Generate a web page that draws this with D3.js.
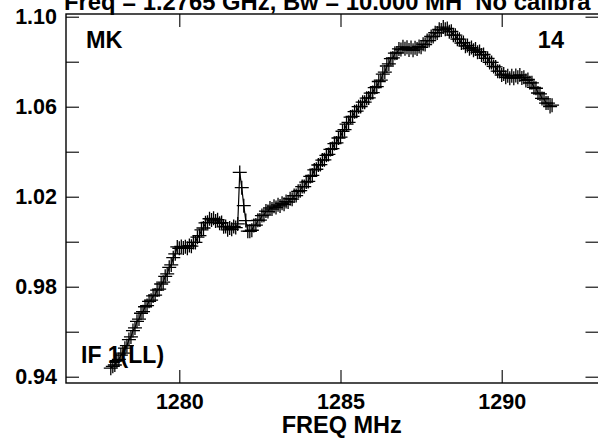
<!DOCTYPE html>
<html>
<head>
<meta charset="utf-8">
<script src="https://cdn.jsdelivr.net/npm/d3@7"></script>
<style>
  html, body { margin: 0; padding: 0; background: #fff; overflow: hidden; }
  svg { display: block; }
  text { font-family: "Liberation Sans", Arial, sans-serif; font-weight: bold; fill: #000; white-space: pre; }
</style>
</head>
<body>
<svg id="chart" width="598" height="438"></svg>
<script>
// ---------------- data ----------------
const titleText = "Freq = 1.2765 GHz, Bw = 10.000 MH  No calibra";
const xLabel = "FREQ MHz";
const cornerLeft = "MK";
const cornerRight = "14";
const ifLabel = "IF 1(LL)";

const xTickValues = [1280, 1285, 1290];
const yTickValues = [0.94, 0.96, 0.98, 1.00, 1.02, 1.04, 1.06, 1.08, 1.10];
const yTickLabels = ["0.94", "", "0.98", "", "1.02", "", "1.06", "", "1.10"];

// channel frequencies (MHz): first channel and channel spacing
const freqStart = 1277.875;
const freqStep = 0.0625;

// amplitude per channel
const amplitude = [
  0.9438, 0.9446, 0.9452, 0.9471, 0.9477, 0.9496, 0.9505, 0.9527, 0.9538, 0.9565, 0.9577, 0.9605, 0.9617, 0.9646, 0.9656, 0.9682,
  0.9689, 0.9711, 0.9716, 0.9735, 0.9740, 0.9759, 0.9763, 0.9785, 0.9789, 0.9812, 0.9820, 0.9846, 0.9857, 0.9886, 0.9897, 0.9929,
  0.9946, 0.9977, 0.9971, 0.9979, 0.9972, 0.9978, 0.9971, 0.9983, 0.9980, 0.9997, 0.9997, 1.0020, 1.0027, 1.0053, 1.0061, 1.0084,
  1.0086, 1.0102, 1.0097, 1.0104, 1.0092, 1.0098, 1.0082, 1.0085, 1.0066, 1.0068, 1.0053, 1.0061, 1.0055, 1.0068, 1.0063, 1.0079,
  1.0308, 1.0240, 1.0160, 1.0094, 1.0047, 1.0046, 1.0051, 1.0072, 1.0074, 1.0095, 1.0096, 1.0116, 1.0118, 1.0136, 1.0134, 1.0150,
  1.0145, 1.0158, 1.0152, 1.0164, 1.0159, 1.0171, 1.0166, 1.0179, 1.0176, 1.0191, 1.0189, 1.0205, 1.0205, 1.0224, 1.0227, 1.0245,
  1.0245, 1.0265, 1.0268, 1.0290, 1.0295, 1.0319, 1.0322, 1.0341, 1.0343, 1.0363, 1.0364, 1.0384, 1.0388, 1.0410, 1.0414, 1.0436,
  1.0439, 1.0461, 1.0465, 1.0491, 1.0498, 1.0523, 1.0530, 1.0554, 1.0557, 1.0578, 1.0580, 1.0600, 1.0601, 1.0620, 1.0620, 1.0638,
  1.0639, 1.0660, 1.0663, 1.0685, 1.0689, 1.0712, 1.0718, 1.0745, 1.0754, 1.0781, 1.0790, 1.0814, 1.0817, 1.0838, 1.0839, 1.0857,
  1.0854, 1.0866, 1.0858, 1.0864, 1.0852, 1.0863, 1.0851, 1.0862, 1.0856, 1.0868, 1.0864, 1.0878, 1.0876, 1.0894, 1.0894, 1.0912,
  1.0912, 1.0929, 1.0928, 1.0944, 1.0941, 1.0954, 1.0944, 1.0948, 1.0933, 1.0935, 1.0918, 1.0918, 1.0900, 1.0900, 1.0883, 1.0885,
  1.0869, 1.0872, 1.0858, 1.0863, 1.0851, 1.0856, 1.0842, 1.0845, 1.0830, 1.0832, 1.0815, 1.0815, 1.0797, 1.0797, 1.0779, 1.0777,
  1.0758, 1.0757, 1.0741, 1.0745, 1.0731, 1.0738, 1.0727, 1.0738, 1.0727, 1.0739, 1.0731, 1.0741, 1.0728, 1.0731, 1.0717, 1.0721,
  1.0706, 1.0706, 1.0686, 1.0682, 1.0661, 1.0657, 1.0637, 1.0635, 1.0616, 1.0616, 1.0601, 1.0607
];

// ---------------- layout ----------------
const frame = { left: 66, right: 600, top: 14, bottom: 383 };
const tickFont = 21.5;
const labelFont = 23.5;
const titleFont = 23.8;
const tickLen = 13;
const markerHalf = 7;

const svg = d3.select("#chart");

const x = d3.scaleLinear().domain([1280, 1290]).range([179.3, 501.7]);
const y = d3.scaleLinear().domain([0.94, 1.10]).range([376.7, 16.7]);

const points = amplitude.map((v, i) => ({ f: freqStart + i * freqStep, v }));

// frame
svg.append("rect")
  .attr("x", frame.left).attr("y", frame.top)
  .attr("width", frame.right - frame.left).attr("height", frame.bottom - frame.top)
  .attr("fill", "none").attr("stroke", "#000").attr("stroke-width", 1.4);

// axes
const labelFor = d => yTickLabels[yTickValues.indexOf(d)];

const gLeft = svg.append("g").attr("transform", `translate(${frame.left},0)`)
  .call(d3.axisLeft(y).tickValues(yTickValues).tickSizeInner(-tickLen).tickSizeOuter(0)
    .tickPadding(9).tickFormat(labelFor));
const gRight = svg.append("g").attr("transform", `translate(${frame.right - 1.5},0)`)
  .call(d3.axisRight(y).tickValues(yTickValues).tickSizeInner(-tickLen).tickSizeOuter(0)
    .tickFormat(() => ""));
const gBottom = svg.append("g").attr("transform", `translate(0,${frame.bottom})`)
  .call(d3.axisBottom(x).tickValues(xTickValues).tickSizeInner(-tickLen).tickSizeOuter(0)
    .tickPadding(11).tickFormat(d3.format("d")));
const gTop = svg.append("g").attr("transform", `translate(0,${frame.top})`)
  .call(d3.axisTop(x).tickValues(xTickValues).tickSizeInner(-tickLen).tickSizeOuter(0)
    .tickFormat(() => ""));

[gLeft, gRight, gBottom, gTop].forEach(g => {
  g.select(".domain").remove();
  g.selectAll(".tick line").attr("stroke", "#000").attr("stroke-width", 1.1);
  g.selectAll(".tick text")
    .attr("font-family", '"Liberation Sans", Arial, sans-serif')
    .attr("font-weight", "bold").attr("font-size", tickFont).attr("fill", "#000");
});

// data: connecting line + plus markers
const line = d3.line().x(d => x(d.f)).y(d => y(d.v));
svg.append("path").datum(points)
  .attr("d", line).attr("fill", "none").attr("stroke", "#000").attr("stroke-width", 1.2);

svg.append("g").selectAll("path.plus").data(points).join("path")
  .attr("class", "plus")
  .attr("d", d => {
    const cx = x(d.f), cy = y(d.v);
    return `M${cx - markerHalf},${cy}H${cx + markerHalf}M${cx},${cy - markerHalf}V${cy + markerHalf}`;
  })
  .attr("stroke", "#000").attr("stroke-width", 1.3).attr("fill", "none");

// texts
svg.append("text").attr("x", 64).attr("y", 10)
  .attr("font-size", titleFont).text(titleText);
svg.append("text").attr("x", 341.7).attr("y", 433).attr("text-anchor", "middle")
  .attr("font-size", labelFont).text(xLabel);
svg.append("text").attr("x", 86).attr("y", 48)
  .attr("font-size", labelFont).text(cornerLeft);
svg.append("text").attr("x", 564).attr("y", 48).attr("text-anchor", "end")
  .attr("font-size", labelFont).text(cornerRight);
svg.append("text").attr("x", 81).attr("y", 363)
  .attr("font-size", 23).text(ifLabel);
</script>
</body>
</html>
